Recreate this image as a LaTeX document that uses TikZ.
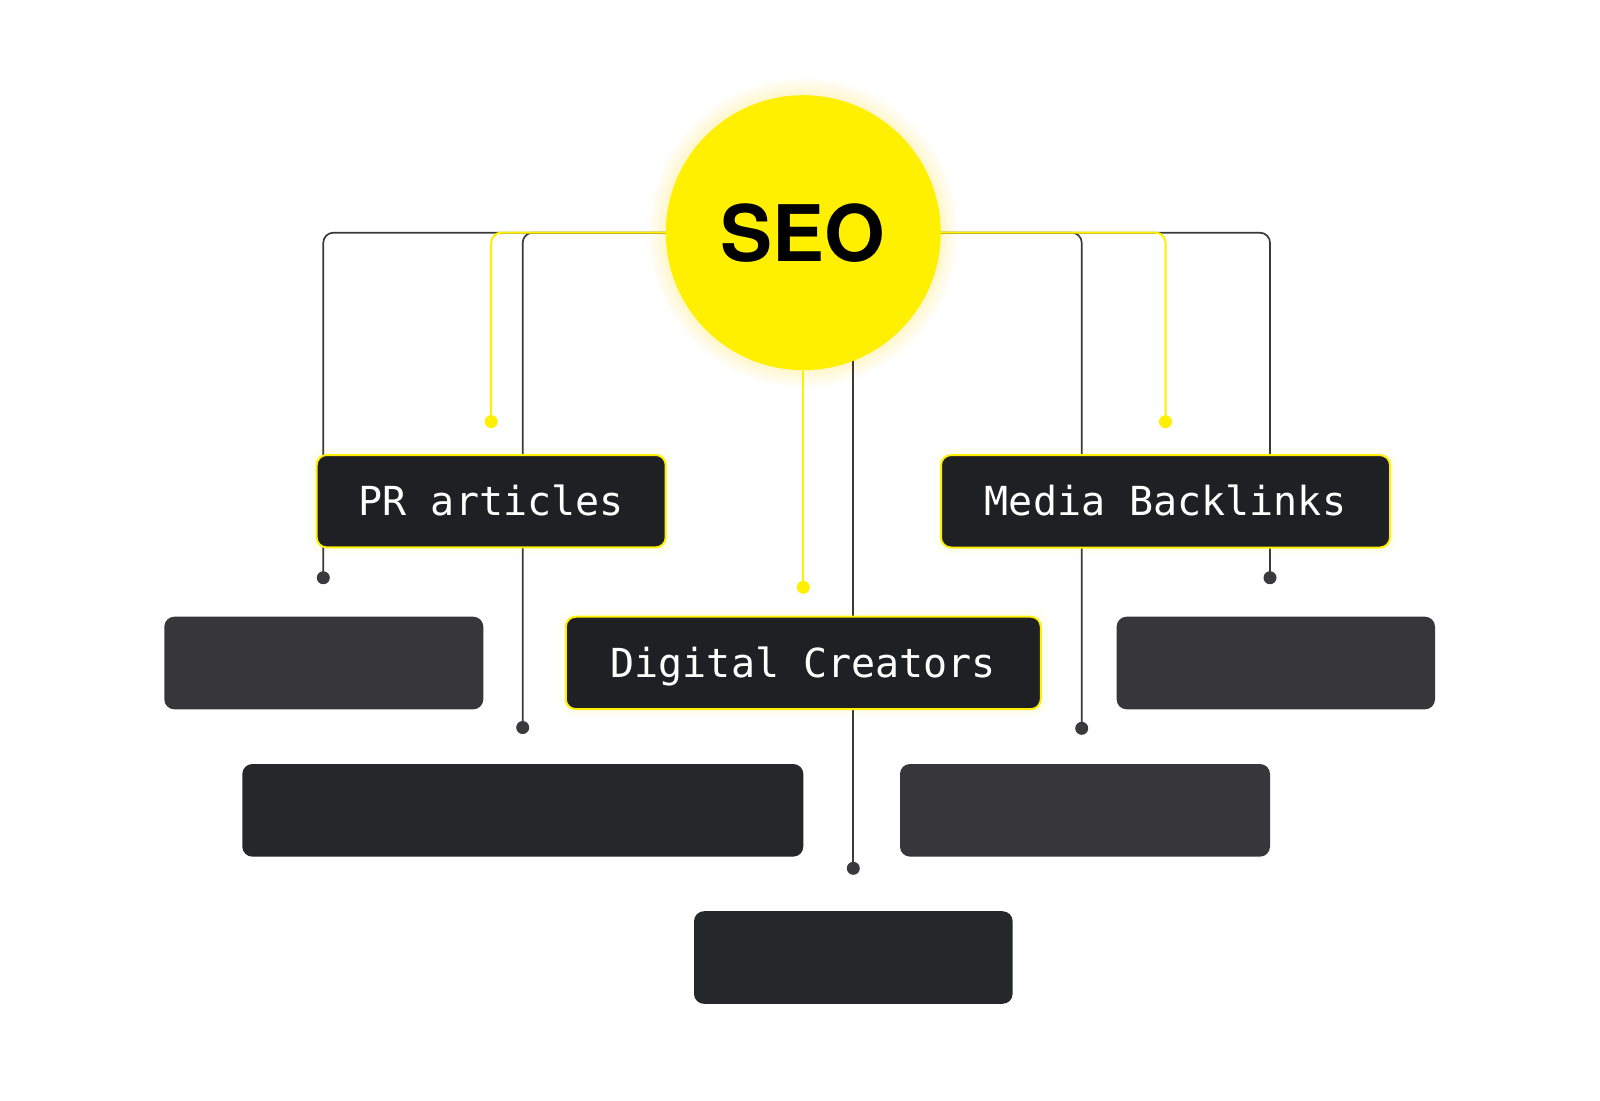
\documentclass[tikz,border=0pt]{standalone}
\usepackage{fontspec}
\newfontfamily\monofont{DejaVu Sans Mono}
\newfontfamily\headfont{TeX Gyre Heros}
\usetikzlibrary{positioning}
\definecolor{seoyellow}{HTML}{FFF000}
\definecolor{wiregray}{HTML}{3A3A3C}
\definecolor{labelfill}{HTML}{1F2023}
\definecolor{tilegray}{HTML}{37373A}
\definecolor{tiledark}{HTML}{262729}
\pgfdeclarelayer{glow}
\pgfdeclarelayer{wires}
\pgfsetlayers{glow,wires,main}

\tikzset{
  seo/.style={circle,fill=seoyellow,minimum size=137.5pt,inner sep=0pt,
    font=\headfont\bfseries\fontsize{39}{39}\selectfont},
  labelbox/.style={rectangle,rounded corners=5pt,fill=labelfill,draw=seoyellow,
    line width=1pt,text=white,minimum height=46.2pt,inner sep=0pt,
    text height=14.5pt,text depth=0pt,font=\monofont\fontsize{20}{24}\selectfont},
  tile/.style={rectangle,rounded corners=5pt,fill=tilegray,minimum height=46.3pt,inner sep=0pt},
  wire/.style={draw=wiregray,line width=0.85pt,rounded corners=5pt},
  ywire/.style={draw=seoyellow,line width=1pt,rounded corners=5pt},
  dot/.style={fill=wiregray},
  ydot/.style={fill=seoyellow}
}

\begin{document}
\begin{tikzpicture}[x=0.5pt,y=-0.5pt]
    \useasboundingbox (0,0) rectangle (1600,1100);
    \node[seo] (seo) at (803.3,232.7) {SEO};
    \node[labelbox,minimum width=174.5pt] (pr) at (491.2,501.2) {PR articles};
    \node[labelbox,minimum width=224.5pt] (mb) at (1165.5,501.3) {Media Backlinks};
    \node[labelbox,minimum width=237.5pt] (dc) at (803.3,662.9) {Digital Creators};
    \node[tile,minimum width=159.5pt] (t1) at (323.8,663) {};
    \node[tile,minimum width=159.2pt] (t2) at (1275.8,663) {};
    \node[tile,fill=tiledark,minimum width=280.5pt] (t3) at (522.8,810.3) {};
    \node[tile,minimum width=185pt] (t4) at (1085,810.3) {};
    \node[tile,fill=tiledark,minimum width=159.3pt] (t5) at (853.3,957.5) {};

    \coordinate (d1) at (323.3,577.7);
    \coordinate (d2) at (522.7,727.5);
    \coordinate (d3) at (853.3,868.3);
    \coordinate (d4) at (1081.7,728.3);
    \coordinate (d5) at (1270,577.7);
    \coordinate[above=16.2pt of pr] (y1);
    \coordinate[above=16.2pt of mb] (y2);
    \coordinate[above=14.2pt of dc] (y3);

    \begin{pgfonlayer}{glow}
    \fill[white] (0,0) rectangle (1600,1100);
    \foreach \r in {1,...,8}
        \fill[seoyellow,opacity=0.025] (seo) circle (68.75pt+\r*1.1pt);
    \foreach \n in {pr,mb,dc}
        \draw[seoyellow,opacity=0.05,line width=6pt,rounded corners=5pt]
            (\n.south west) rectangle (\n.north east);
    \end{pgfonlayer}

    \begin{pgfonlayer}{wires}
    \draw[wire] (seo.center) -| (d1);
    \draw[wire] (seo.center) -| (d2);
    \draw[wire] (seo.center -| d3) -- (d3);
    \draw[wire] (seo.center) -| (d4);
    \draw[wire] (seo.center) -| (d5);
    \draw[ywire] (seo.center) -| (y1);
    \draw[ywire] (seo.center) -| (y2);
    \draw[ywire] (seo.center) -- (y3);
    \end{pgfonlayer}

    \foreach \i in {1,...,5}
        \fill[dot] (d\i) circle (3.25pt);
    \foreach \i in {1,...,3}
        \fill[ydot] (y\i) circle (3.25pt);
\end{tikzpicture}
\end{document}
